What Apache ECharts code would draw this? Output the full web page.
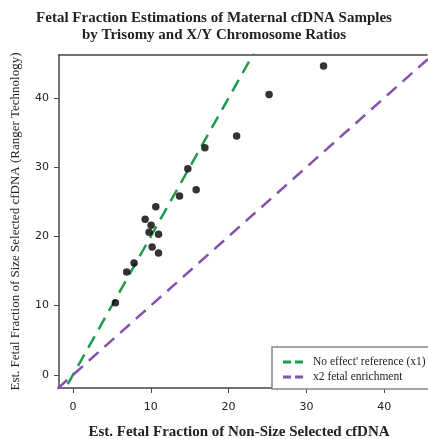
<!DOCTYPE html>
<html>
<head>
<meta charset="utf-8">
<script src="https://cdn.jsdelivr.net/npm/echarts@6/dist/echarts.min.js"></script>
<style>
  html, body { margin: 0; padding: 0; background: #fff; }
  #main { width: 428px; height: 439px; }
</style>
</head>
<body>
<div id="main"></div>
<script>
// measured samples: x = non-size selected, y = size selected (Ranger)
var nonSizeFF = [5.45, 6.9, 7.85, 10.17, 10.99, 9.78, 10.99, 10.04, 9.27, 10.64, 13.69, 15.83, 14.76, 16.95, 21.03, 25.2, 32.2];
var sizeSelFF = [10.43, 14.86, 16.16, 18.47, 17.6, 20.59, 20.3, 21.6, 22.47, 24.29, 25.83, 26.74, 29.77, 32.8, 34.5, 40.5, 44.6];
// reference lines (end points)
var refGreen = [[-2, -4], [25, 50]];
var refPurple = [[-2, -2], [48, 48]];
var xTicks = [0, 10, 20, 30, 40];
var yTicks = [0, 10, 20, 30, 40];

var points = [];
for (var i = 0; i < nonSizeFF.length; i++) {
  points.push([nonSizeFF[i], sizeSelFF[i]]);
}

var serif = "'Liberation Serif', 'DejaVu Serif', serif";
var dashIcon = "path://M0,0h8v3h-8z M12,0h8v3h-8z";
var myChart = echarts.init(document.getElementById("main"));
var option = {
  animation: false,
  title: {
    text: "Fetal Fraction Estimations of Maternal cfDNA Samples\nby Trisomy and X/Y Chromosome Ratios",
    left: "center",
    top: 5,
    textStyle: {
      fontFamily: serif,
      fontSize: 15,
      fontWeight: "bold",
      lineHeight: 17,
      color: "#222"
    }
  },
  legend: {
    data: [
      { name: "No effect' reference (x1)", icon: dashIcon },
      { name: "x2 fetal enrichment", icon: dashIcon }
    ],
    orient: "vertical",
    left: 272,
    top: 347,
    padding: [9, 60, 6, 11],
    itemGap: 3,
    itemWidth: 22,
    itemHeight: 3,
    borderColor: "#888",
    borderWidth: 1.5,
    backgroundColor: "#fff",
    textStyle: { fontFamily: serif, fontSize: 11.5, color: "#222", padding: [0, 0, 0, 4] }
  },
  grid: { left: 59, right: 1, top: 55, bottom: 51, outerBoundsMode: "none", containLabel: false },
  xAxis: [
    {
      type: "value",
      min: -1.8,
      max: 45.5,
      name: "Est. Fetal Fraction of Non-Size Selected cfDNA",
      nameLocation: "middle",
      nameGap: 37,
      nameTextStyle: { fontFamily: serif, fontSize: 15, fontWeight: "bold", color: "#222", padding: [0, 8, 0, 0] },
      splitLine: { show: false },
      axisLine: { onZero: false, lineStyle: { color: "#444", width: 1.5 } },
      axisTick: { customValues: xTicks, length: 5, lineStyle: { color: "#444" } },
      axisLabel: { customValues: xTicks, margin: 14, fontFamily: "'DejaVu Sans', sans-serif", fontSize: 11, color: "#222" }
    },
    {
      type: "value",
      position: "top",
      min: -1.8,
      max: 45.5,
      splitLine: { show: false },
      axisLine: { onZero: false, lineStyle: { color: "#444", width: 1.5 } },
      axisTick: { show: false },
      axisLabel: { show: false }
    }
  ],
  yAxis: {
    type: "value",
    min: -1.9,
    max: 46.2,
    name: "Est. Fetal Fraction of Size Selected cfDNA (Ranger Technology)",
    nameLocation: "middle",
    nameGap: 37,
    nameTextStyle: { fontFamily: serif, fontSize: 13, color: "#222" },
    splitLine: { show: false },
    axisLine: { show: true, onZero: false, lineStyle: { color: "#444", width: 1.5 } },
    axisTick: { show: true, customValues: yTicks, length: 5, lineStyle: { color: "#444" } },
    axisLabel: { customValues: yTicks, margin: 10, fontFamily: "'DejaVu Sans', sans-serif", fontSize: 11, color: "#222" }
  },
  series: [
    {
      name: "No effect' reference (x1)",
      type: "line",
      data: refGreen,
      symbol: "none",
      clip: true,
      itemStyle: { color: "#1f9a4c" },
      lineStyle: { color: "#1f9a4c", width: 2.5, type: [13, 8] },
      z: 2
    },
    {
      name: "x2 fetal enrichment",
      type: "line",
      data: refPurple,
      symbol: "none",
      clip: true,
      itemStyle: { color: "#8650ae" },
      lineStyle: { color: "#8650ae", width: 2.5, type: [13, 8] },
      z: 2
    },
    {
      name: "samples",
      type: "scatter",
      data: points,
      symbolSize: 7.5,
      itemStyle: { color: "#000" },
      z: 3
    }
  ]
};
myChart.setOption(option);
</script>
</body>
</html>
